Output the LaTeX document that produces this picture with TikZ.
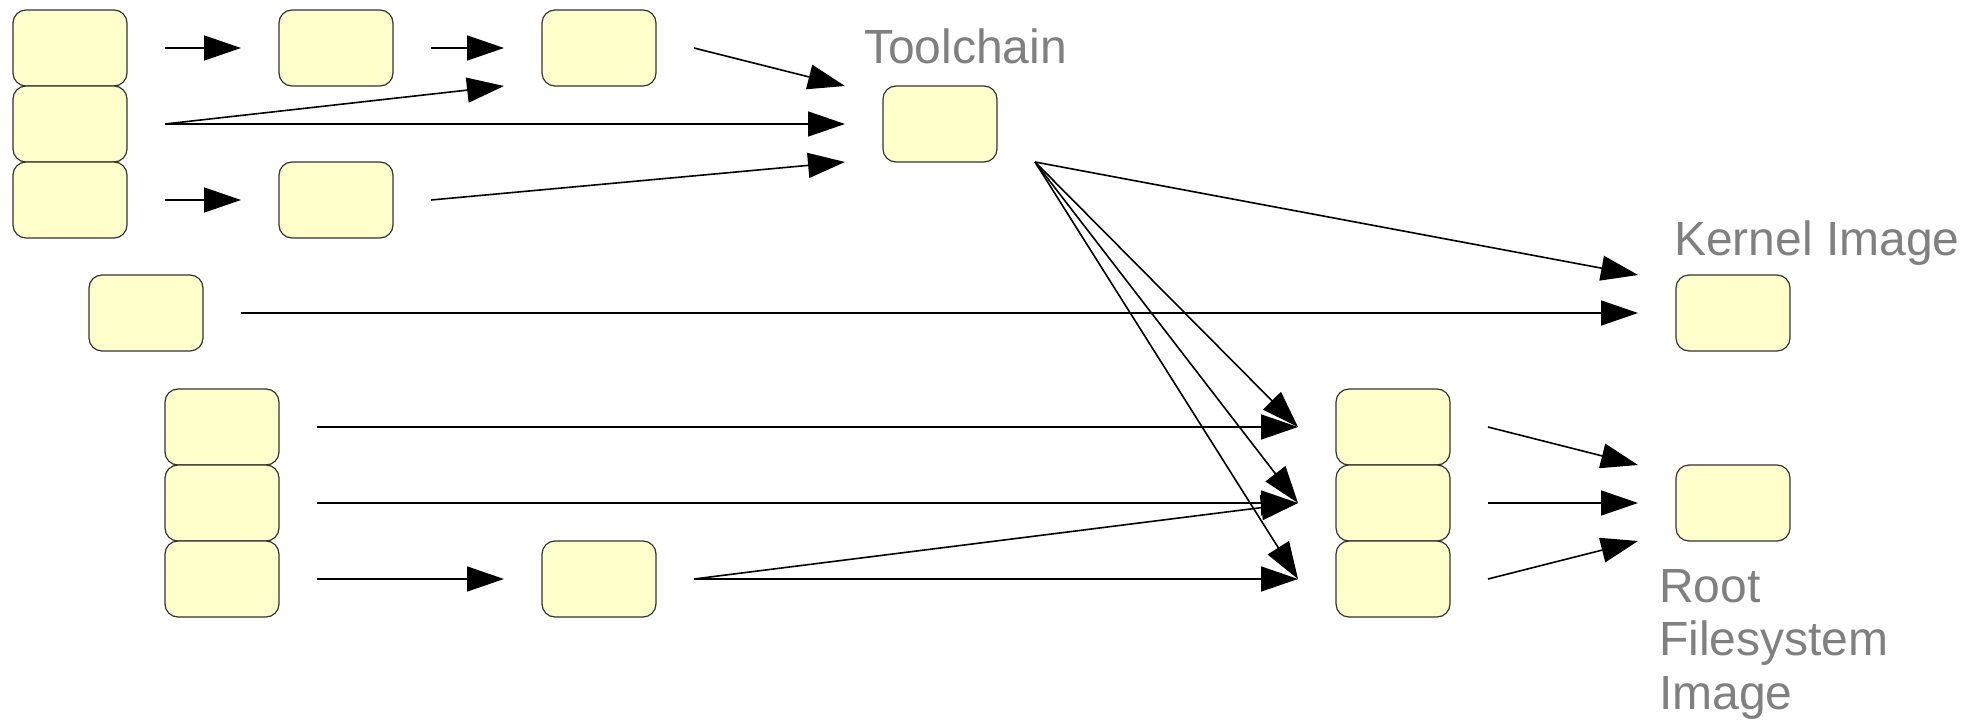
\documentclass[tikz,border=0pt]{standalone}
\usepackage{fontspec}
\setmainfont{Liberation Sans}
\usetikzlibrary{arrows.meta}
\definecolor{boxfill}{HTML}{FFFFCC}
\definecolor{boxline}{HTML}{333333}
\definecolor{labelgray}{HTML}{808080}
\begin{document}
\begin{tikzpicture}[x=1pt,y=-1pt,
  stage/.style={draw=boxline, fill=boxfill, line width=1.2pt, rounded corners=13pt,
    minimum width=114pt, minimum height=76pt, inner sep=0pt, outer sep=0pt},
  flow/.style={line width=1.6pt, -{Triangle[length=37pt,width=25pt]}},
  caption/.style={text=labelgray, font=\fontsize{48}{53.5}\selectfont,
    inner sep=0pt, outer sep=0pt, align=left}]
\useasboundingbox (0,0) rectangle (1986,722);

% source stages, upper block
\node[stage] (A1) at (70,48) {};
\node[stage] (A2) at (70,124) {};
\node[stage] (A3) at (70,200) {};
\node[stage] (B1) at (336,48) {};
\node[stage] (B3) at (336,200) {};
\node[stage] (C1) at (599,48) {};
\node[stage] (T) at (940,124) {};
% kernel path
\node[stage] (D) at (146,313) {};
\node[stage] (K) at (1733,313) {};
% root filesystem path
\node[stage] (E1) at (222,427) {};
\node[stage] (E2) at (222,503) {};
\node[stage] (E3) at (222,579) {};
\node[stage] (F) at (599,579) {};
\node[stage] (R1) at (1393,427) {};
\node[stage] (R2) at (1393,503) {};
\node[stage] (R3) at (1393,579) {};
\node[stage] (RF) at (1733,503) {};

% labels (multi-line label is anchored on its last baseline)
\node[caption, anchor=base west] (tclabel) at (864,64) {Toolchain};
\node[caption, anchor=base west] (klabel) at (1674,255) {Kernel Image};
\node[caption, anchor=base west] (rlabel) at (1659,709) {Root\\Filesystem\\Image};

% toolchain build
\draw[flow] ([xshift=38pt]A1.east) -- ([xshift=-38pt]B1.west);
\draw[flow] ([xshift=38pt]B1.east) -- ([xshift=-38pt]C1.west);
\draw[flow] ([xshift=38pt]C1.east) -- ([xshift=-38pt]T.north west);
\draw[flow] ([xshift=38pt]A2.east) -- ([xshift=-38pt]C1.south west);
\draw[flow] ([xshift=38pt]A2.east) -- ([xshift=-38pt]T.west);
\draw[flow] ([xshift=38pt]A3.east) -- ([xshift=-38pt]B3.west);
\draw[flow] ([xshift=38pt]B3.east) -- ([xshift=-38pt]T.south west);

% toolchain fan-out
\draw[flow] ([xshift=38pt]T.south east) -- ([xshift=-38pt]K.north west);
\draw[flow] ([xshift=38pt]T.south east) -- ([xshift=-38pt]R1.west);
\draw[flow] ([xshift=38pt]T.south east) -- ([xshift=-38pt]R2.west);
\draw[flow] ([xshift=38pt]T.south east) -- ([xshift=-38pt]R3.west);

% kernel
\draw[flow] ([xshift=38pt]D.east) -- ([xshift=-38pt]K.west);

% root filesystem
\draw[flow] ([xshift=38pt]E1.east) -- ([xshift=-38pt]R1.west);
\draw[flow] ([xshift=38pt]E2.east) -- ([xshift=-38pt]R2.west);
\draw[flow] ([xshift=38pt]E3.east) -- ([xshift=-38pt]F.west);
\draw[flow] ([xshift=38pt]F.east) -- ([xshift=-38pt]R2.west);
\draw[flow] ([xshift=38pt]F.east) -- ([xshift=-38pt]R3.west);
\draw[flow] ([xshift=38pt]R1.east) -- ([xshift=-38pt]RF.north west);
\draw[flow] ([xshift=38pt]R2.east) -- ([xshift=-38pt]RF.west);
\draw[flow] ([xshift=38pt]R3.east) -- ([xshift=-38pt]RF.south west);
\end{tikzpicture}
\end{document}
